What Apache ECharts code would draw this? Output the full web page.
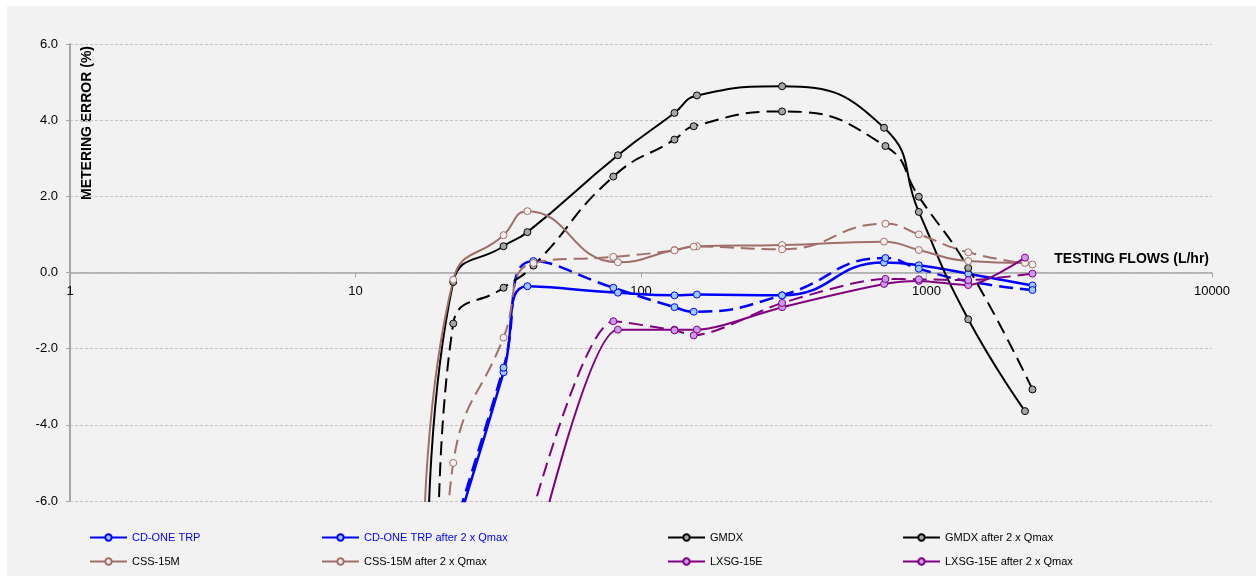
<!DOCTYPE html>
<html><head><meta charset="utf-8">
<script src="https://cdn.jsdelivr.net/npm/echarts@6/dist/echarts.min.js"></script>
<style>
html,body{margin:0;padding:0;background:#fff;}
#bg{position:absolute;left:7px;top:6px;right:0;bottom:3px;background:#f2f2f2;}
#c{position:absolute;left:0;top:0;width:1256px;height:579px;}
</style></head><body>
<div id="bg"></div><div id="c"></div>
<script>
// ---- data ----
const xTicks = [1, 10, 100, 1000, 10000];
const yTicks = [-6, -4, -2, 0, 2, 4, 6];

const seriesNames = ['CD-ONE TRP', 'CD-ONE TRP after 2 x Qmax', 'GMDX', 'GMDX after 2 x Qmax',
  'CSS-15M', 'CSS-15M after 2 x Qmax', 'LXSG-15E', 'LXSG-15E after 2 x Qmax'];

const cdOneFlows = [22, 33, 40, 83, 131, 157, 312, 710, 940, 1400, 2350];
const cdOneErr   = [-7.0, -2.62, -0.36, -0.53, -0.60, -0.58, -0.60, 0.26, 0.19, -0.03, -0.34];
const cdOneQFlows = [22, 33, 42, 80, 131, 153, 312, 718, 940, 1400, 2350];
const cdOneQErr   = [-6.8, -2.50, 0.30, -0.40, -0.91, -1.03, -0.60, 0.38, 0.10, -0.23, -0.46];

const gmdxFlows = [18, 22, 33, 40, 83, 131, 157, 312, 710, 940, 1400, 2213];
const gmdxErr   = [-7.0, -0.25, 0.69, 1.06, 3.08, 4.19, 4.65, 4.89, 3.80, 1.59, -1.23, -3.64];
const gmdxQFlows = [19.5, 22, 33, 42, 80, 131, 153, 312, 718, 940, 1400, 2350];
const gmdxQErr   = [-7.0, -1.34, -0.40, 0.18, 2.52, 3.49, 3.84, 4.23, 3.32, 1.99, 0.12, -3.07];

const cssFlows = [17.4, 22, 33, 40, 83, 131, 157, 312, 710, 940, 1400, 2213];
const cssErr   = [-7.0, -0.19, 0.98, 1.61, 0.27, 0.59, 0.69, 0.72, 0.81, 0.59, 0.30, 0.25];
const cssQFlows = [20.8, 22, 33, 42, 80, 131, 153, 312, 718, 940, 1400, 2350];
const cssQErr   = [-7.5, -5.0, -1.71, 0.25, 0.41, 0.58, 0.68, 0.61, 1.28, 1.00, 0.53, 0.21];

const lxsgFlows = [41, 83, 131, 157, 312, 710, 940, 1400, 2213];
const lxsgErr   = [-8.0, -1.50, -1.50, -1.50, -0.91, -0.30, -0.22, -0.33, 0.39];
const lxsgQFlows = [36, 80, 131, 153, 312, 718, 940, 1400, 2350];
const lxsgQErr   = [-8.0, -1.28, -1.52, -1.65, -0.80, -0.17, -0.18, -0.20, -0.03];

// ---- styles ----
const FONT = "'Liberation Sans', Arial, sans-serif";
const lineColors = ['#0000ff', '#0000ff', '#000000', '#000000', '#a06f6a', '#a06f6a', '#800080', '#800080'];
const fillColors = ['#99ccff', '#99ccff', '#a6a6a6', '#a6a6a6', '#f4efef', '#f4efef', '#cc99ee', '#cc99ee'];
const lineWidths = [2.5, 2.5, 2, 2, 2, 2, 2, 2];
const dashed = [false, true, false, true, false, true, false, true];
const smoothness = [0.5, 0.5, 0.5, 0.5, 0.5, 0.5, 0.25, 0.25];
const legendTextColors = ['#0000ff', '#0000ff', '#000', '#000', '#000', '#000', '#000', '#000'];

const flowSets = [cdOneFlows, cdOneQFlows, gmdxFlows, gmdxQFlows, cssFlows, cssQFlows, lxsgFlows, lxsgQFlows];
const errSets = [cdOneErr, cdOneQErr, gmdxErr, gmdxQErr, cssErr, cssQErr, lxsgErr, lxsgQErr];

const series = seriesNames.map((name, i) => ({
  name, type: 'line', smooth: smoothness[i],
  data: flowSets[i].map((f, k) => [f, errSets[i][k]]),
  symbol: 'circle', symbolSize: 7, showAllSymbol: true,
  lineStyle: { color: lineColors[i], width: lineWidths[i], type: dashed[i] ? [14, 7] : 'solid' },
  itemStyle: { color: fillColors[i], borderColor: lineColors[i], borderWidth: 1 },
  emphasis: { disabled: true },
  z: 2
}));

const legendCols = [[0, 4], [1, 5], [2, 6], [3, 7]];
const legendLefts = [84, 316, 662, 897];

const chart = echarts.init(document.getElementById('c'), null, { renderer: 'canvas' });
chart.setOption({
  animation: false,
  color: lineColors,
  grid: { left: 70, right: 44, top: 44, bottom: 78, containLabel: false },
  xAxis: {
    type: 'log', logBase: 10, min: xTicks[0], max: xTicks[xTicks.length - 1],
    axisLine: { onZero: false, lineStyle: { color: '#a6a6a6', width: 1.5 } },
    axisTick: { show: true, length: 5, lineStyle: { color: '#a6a6a6' } },
    minorTick: { show: false },
    splitLine: { show: false },
    axisLabel: { fontFamily: FONT, fontSize: 13, color: '#000', margin: 12,
      formatter: v => String(xTicks.reduce((a, b) => Math.abs(b - v) < Math.abs(a - v) ? b : a)) }
  },
  yAxis: {
    type: 'value', min: yTicks[0], max: yTicks[yTicks.length - 1], interval: 2,
    axisLine: { show: true, onZero: false, lineStyle: { color: '#a6a6a6', width: 2 } },
    axisTick: { show: true, length: 4, lineStyle: { color: '#a6a6a6' } },
    splitLine: { show: true, lineStyle: { color: '#c4c4c4', type: [3, 2], width: 1 } },
    axisLabel: { fontFamily: FONT, fontSize: 13, color: '#000', margin: 12,
      formatter: v => v.toFixed(1) }
  },
  legend: legendCols.map((col, i) => ({
    orient: 'vertical', left: legendLefts[i], top: 527,
    itemWidth: 37, itemHeight: 8, itemGap: 13, selectedMode: false,
    lineStyle: { type: 'solid' },
    textStyle: { fontFamily: FONT, fontSize: 11, color: '#000' },
    data: col.map(k => ({ name: seriesNames[k], textStyle: { color: legendTextColors[k] } }))
  })),
  graphic: [
    { type: 'text', x: 1209, y: 259, style: { text: 'TESTING FLOWS (L/hr)', font: 'bold 14px ' + FONT, fill: '#000', align: 'right', verticalAlign: 'middle' } },
    { type: 'text', x: 87, y: 46, rotation: Math.PI / 2, style: { text: 'METERING ERROR (%)', font: 'bold 14px ' + FONT, fill: '#000', align: 'right', verticalAlign: 'middle' } }
  ],
  series
});
// move the x axis (line, ticks, labels) up to the zero error line
const yZero = chart.convertToPixel({ yAxisIndex: 0 }, 0);
const yBottom = chart.convertToPixel({ yAxisIndex: 0 }, yTicks[0]);
chart.setOption({ xAxis: { offset: -(yBottom - yZero) } });
</script>
</body></html>
